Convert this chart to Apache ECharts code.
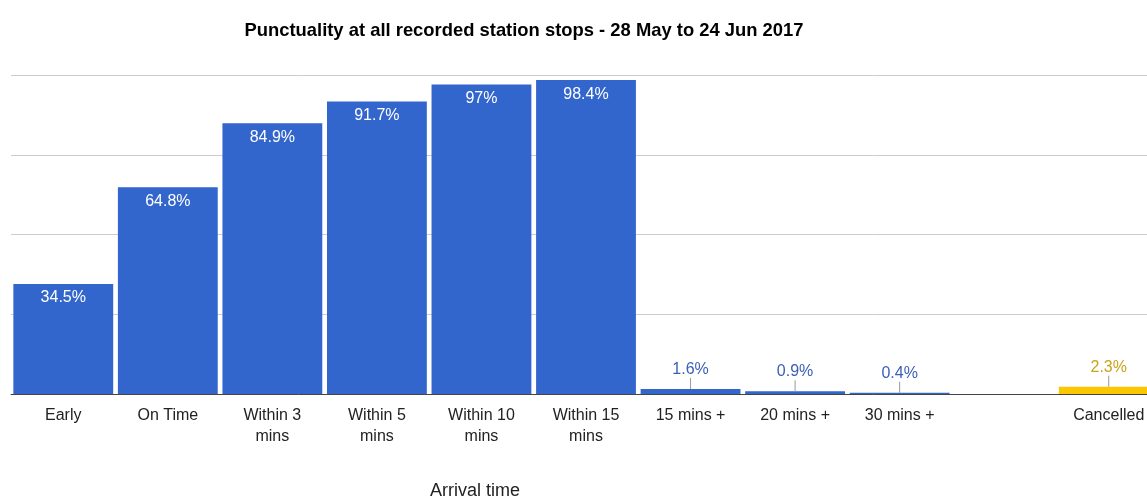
<!DOCTYPE html>
<html><head><meta charset="utf-8">
<script src="https://cdn.jsdelivr.net/npm/echarts@6/dist/echarts.min.js"></script>
<style>html,body{margin:0;padding:0;background:#fff;overflow:hidden}#c{width:1161px;height:496px}</style>
</head><body><div id="c"></div>
<script>
const categories = ['Early','On Time','Within 3\nmins','Within 5\nmins','Within 10\nmins','Within 15\nmins','15 mins +','20 mins +','30 mins +','','Cancelled'];
const arrivalValues = [34.5, 64.8, 84.9, 91.7, 97, 98.4, 1.6, 0.9, 0.4, null, null];
const cancelledValues = [null, null, null, null, null, null, null, null, null, null, 2.3];
const yTicks = [0, 25, 50, 75, 100];

const FONT = 'Arial, "Liberation Sans", sans-serif';
const BLUE = '#3366cc', YELLOW = '#fcc600';

function labelFor(v, textColor) {
  if (v == null) return {show:false};
  if (v > 20) {
    return {show:true, position:'insideTop', distance:6, color:'#fff', fontSize:16, fontFamily:FONT, formatter: v + '%'};
  }
  return {show:true, position:'top', distance:0, formatter: '{v|' + v + '%}\n{s|}',
    rich:{ v:{color:textColor, fontSize:16, fontFamily:FONT, lineHeight:17, align:'center'},
           s:{width:1, height:11, backgroundColor:'#999', align:'center'} }};
}

const chart = echarts.init(document.getElementById('c'), null, {renderer:'canvas'});
chart.setOption({
  animation:false,
  title:[
    {text:'Punctuality at all recorded station stops - 28 May to 24 Jun 2017', left:519, top:17, textAlign:'center',
     textStyle:{fontFamily:FONT, fontSize:18.4, fontWeight:'bold', color:'#000'}},
    {text:'Arrival time', left:470, top:477, textAlign:'center',
     textStyle:{fontFamily:FONT, fontSize:18, fontWeight:'normal', color:'#222'}}
  ],
  grid:{left:11, top:75, right:0, bottom:102, containLabel:false},
  xAxis:{type:'category', data:categories, axisTick:{show:false},
    axisLine:{lineStyle:{color:'#444', width:1}},
    axisLabel:{interval:0, fontFamily:FONT, fontSize:16, color:'#222', margin:11, lineHeight:21}},
  yAxis:{type:'value', min:yTicks[0], max:yTicks[yTicks.length-1], interval:yTicks[1]-yTicks[0],
    axisLabel:{show:false}, axisLine:{show:false}, axisTick:{show:false},
    splitLine:{lineStyle:{color:'#cccccc'}}},
  series:[
    {type:'bar', name:'Arrival', barCategoryGap:'4.5%', barGap:'-100%',
     itemStyle:{color:BLUE},
     data: arrivalValues.map(v => ({value:v, label:labelFor(v, '#3b5fb5')}))},
    {type:'bar', name:'Cancelled', barCategoryGap:'4.5%', barGap:'-100%',
     itemStyle:{color:YELLOW},
     data: cancelledValues.map(v => ({value:v, label:labelFor(v, '#c9a21e')}))}
  ]
});
</script></body></html>
